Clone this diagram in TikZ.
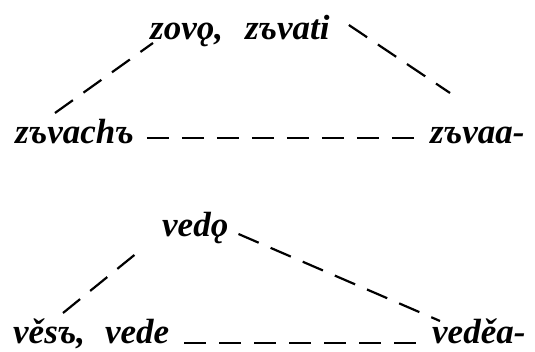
\documentclass[tikz,border=0pt]{standalone}
\usepackage{fontspec}
\setmainfont{Liberation Serif}
\usetikzlibrary{positioning}
\tikzset{
  form/.style={font=\fontsize{35}{38}\selectfont\bfseries\itshape, inner sep=0pt, anchor=base west},
  link/.style={line width=2.2pt, dash pattern=on 22pt off 13pt}
}
\begin{document}
\begin{tikzpicture}[x=1pt,y=1pt]
  \useasboundingbox (0,0) rectangle (535,352);
  % zovǫ group
  \node[form] (zovo) at (150,312) {zovǫ,\hspace{22pt}zъvati};
  \node[form] (zvach) at (15,208) {zъvachъ};
  \node[form] (zvaa) at (430,208) {zъvaa-};
  \draw[link] ([shift={(40,31)}]zvach.base west) -- ([shift={(3,-3)}]zovo.base west);
  \draw[link] ([shift={(19,15)}]zovo.base east) -- ([shift={(20,51)}]zvaa.base west);
  \draw[link] ([shift={(13,6)}]zvach.base east) -- ([shift={(-13,6)}]zvaa.base west);
  % vedǫ group
  \node[form] (vedo) at (162,115) {vedǫ};
  \node[form] (vesv) at (13,8) {věsъ,\hspace{20pt}vede};
  \node[form] (veda) at (432,8) {veděa-};
  \draw[link] ([shift={(50,31)}]vesv.base west) -- ([shift={(-19,-11)}]vedo.base west);
  \draw[link] ([shift={(10,3)}]vedo.base east) -- ([shift={(8,23)}]veda.base west);
  \draw[link] ([shift={(15,1)}]vesv.base east) -- ([shift={(-4,1)}]veda.base west);
\end{tikzpicture}
\end{document}
